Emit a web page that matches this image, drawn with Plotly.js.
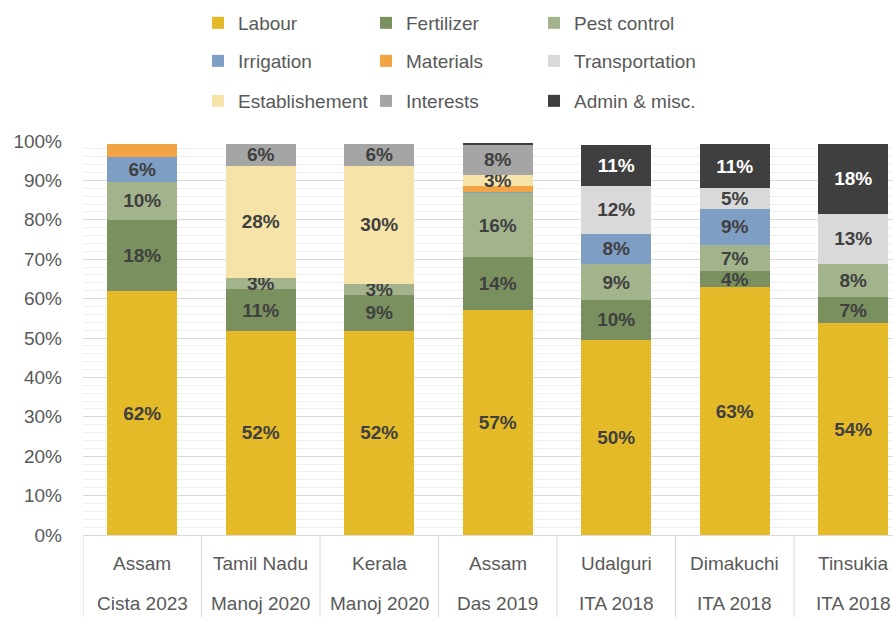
<!DOCTYPE html>
<html>
<head>
<meta charset="utf-8">
<script src="https://cdn.plot.ly/plotly-3.0.1.min.js"></script>
<style>html,body{margin:0;padding:0;background:#fff;}#chart{width:893px;height:617px;}</style>
</head>
<body>
<div id="chart"></div>
<script>
// Categories (two label rows)
const regions = ["Assam", "Tamil Nadu", "Kerala", "Assam", "Udalguri", "Dimakuchi", "Tinsukia"];
const sources = ["Cista 2023", "Manoj 2020", "Manoj 2020", "Das 2019", "ITA 2018", "ITA 2018", "ITA 2018"];

// Cost shares (%)
const labour        = [61.9, 51.8, 51.8, 57.1, 49.5, 62.9, 53.7];
const fertilizer    = [18.0, 10.6,  9.1, 13.5, 10.2,  4.0,  6.7];
const pestControl   = [ 9.8,  2.9,  2.9, 16.1,  9.0,  6.7,  8.4];
const irrigation    = [ 6.2,  0,    0,    0.4,  7.8,  9.2,  0  ];
const materials     = [ 3.3,  0,    0,    1.4,  0,    0,    0  ];
const transportation= [ 0,    0,    0,    0,   12.0,  5.3, 12.8];
const establishment = [ 0,   28.4, 29.9,  2.8,  0,    0,    0  ];
const interests     = [ 0,    5.5,  5.5,  7.8,  0,    0,    0  ];
const adminMisc     = [ 0,    0,    0,    0.5, 10.6, 11.1, 17.6];

const yTicks = [0,10,20,30,40,50,60,70,80,90,100];

const series = [
  {name: "Labour",         y: labour,         color: "#E5BA28", legend: "legend",  label: true,  tc: "#404040"},
  {name: "Fertilizer",     y: fertilizer,     color: "#7A915F", legend: "legend",  label: true,  tc: "#404040"},
  {name: "Pest control",   y: pestControl,    color: "#A3B48D", legend: "legend",  label: true,  tc: "#404040"},
  {name: "Irrigation",     y: irrigation,     color: "#7F9EC4", legend: "legend2", label: true,  tc: "#404040"},
  {name: "Materials",      y: materials,      color: "#F2A444", legend: "legend2", label: false, tc: "#404040"},
  {name: "Transportation", y: transportation, color: "#D9D9D9", legend: "legend2", label: true,  tc: "#404040"},
  {name: "Establishement", y: establishment,  color: "#F5E3A8", legend: "legend3", label: true,  tc: "#404040"},
  {name: "Interests",      y: interests,      color: "#A5A5A5", legend: "legend3", label: true,  tc: "#404040"},
  {name: "Admin & misc.",  y: adminMisc,      color: "#3F3F3F", legend: "legend3", label: true,  tc: "#FFFFFF"}
];

const xIdx = regions.map((_, i) => i);
const FONT = "Liberation Sans, Arial, sans-serif";

const traces = series.map(s => ({
  type: "bar",
  name: s.name,
  x: xIdx,
  y: s.y,
  marker: {color: s.color, line: {width: 0}},
  legend: s.legend,
  text: s.y.map(v => (s.label && v >= 2.5) ? Math.round(v) + "%" : ""),
  textposition: "inside",
  insidetextanchor: "middle",
  textangle: 0,
  constraintext: "none",
  insidetextfont: {family: FONT, size: 19, color: s.tc, weight: "bold"},
  hoverinfo: "name+y"
}));

const annotations = [];
xIdx.forEach(i => {
  annotations.push({x: i, y: 563, xref: "x", yref: "paper", text: regions[i], showarrow: false,
    font: {family: FONT, size: 19, color: "#595959"}, xanchor: "center", yanchor: "middle"});
  annotations.push({x: i, y: 603, xref: "x", yref: "paper", text: sources[i], showarrow: false,
    font: {family: FONT, size: 19, color: "#595959"}, xanchor: "center", yanchor: "middle"});
});

const plotTop = 141, plotBottom = 535;
const toPaperY = py => (plotBottom - py) / (plotBottom - plotTop);
annotations.forEach(a => { a.y = toPaperY(a.y); });

const shapes = [];
for (let i = 0; i <= regions.length; i++) {
  shapes.push({type: "line", xref: "x", yref: "paper", x0: i - 0.5, x1: i - 0.5,
    y0: 0, y1: toPaperY(617), line: {color: "#D9D9D9", width: 1}});
}

const legendCommon = {
  orientation: "h", xref: "container", yref: "container", xanchor: "left", yanchor: "middle",
  x: 198 / 893, entrywidth: 123, entrywidthmode: "pixels",
  font: {family: FONT, size: 19, color: "#595959"}, bgcolor: "rgba(0,0,0,0)",
  traceorder: "normal", itemclick: false, itemdoubleclick: false
};

const layout = {
  width: 893, height: 617,
  margin: {l: 83, r: 0, t: plotTop, b: 617 - plotBottom, pad: 0},
  paper_bgcolor: "#FFFFFF", plot_bgcolor: "#FFFFFF",
  barmode: "stack", bargap: 0.41,
  showlegend: true,
  legend:  Object.assign({}, legendCommon, {y: 1 - 23 / 617}),
  legend2: Object.assign({}, legendCommon, {y: 1 - 61 / 617}),
  legend3: Object.assign({}, legendCommon, {y: 1 - 101 / 617}),
  xaxis: {
    type: "linear", range: [-0.5, 6.335], showticklabels: false, ticks: "",
    showgrid: false, zeroline: false, showline: true, linecolor: "#D9D9D9", linewidth: 1,
    fixedrange: true
  },
  yaxis: {
    range: [0, 100], tickvals: yTicks, ticktext: yTicks.map(v => v + "%"),
    showgrid: true, gridcolor: "#D9D9D9", gridwidth: 1,
    minor: {dtick: 2, tick0: 0, showgrid: true, gridcolor: "#EFEFEF", gridwidth: 1},
    zeroline: false, showline: false, ticks: "", ticklabelstandoff: 20,
    tickfont: {family: FONT, size: 19, color: "#595959"}, fixedrange: true
  },
  annotations: annotations,
  shapes: shapes,
  font: {family: FONT, color: "#595959"}
};

Plotly.newPlot("chart", traces, layout, {displayModeBar: false, staticPlot: true});
</script>
</body>
</html>
